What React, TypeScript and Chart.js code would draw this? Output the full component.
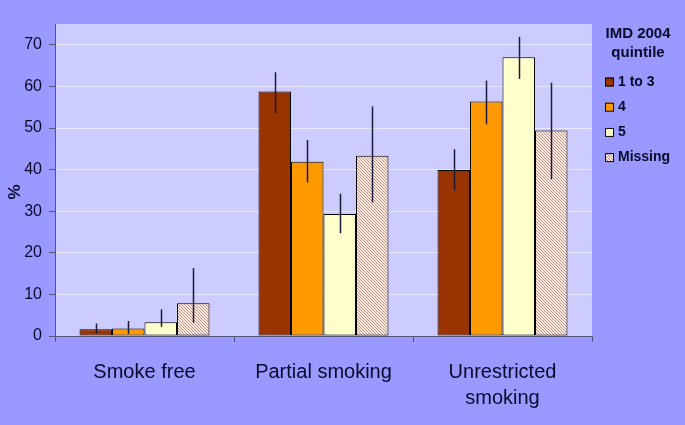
import React, { useEffect, useRef } from "react";
import { Chart, registerables } from "chart.js";

Chart.register(...registerables);

const categories: (string | string[])[] = ["Smoke free", "Partial smoking", ["Unrestricted", "smoking"]];
const seriesLabels = ["1 to 3", "4", "5", "Missing"];

const values13 = [1.6, 58.8, 39.9];
const low13 = [0.6, 53.6, 35.0];
const high13 = [3.0, 63.4, 44.9];

const values4 = [1.8, 41.9, 56.4];
const low4 = [0.5, 36.9, 50.9];
const high4 = [3.6, 47.1, 61.4];

const values5 = [3.3, 29.3, 67.0];
const low5 = [2.2, 24.7, 61.8];
const high5 = [6.4, 34.2, 71.9];

const valuesMissing = [7.9, 43.3, 49.4];
const lowMissing = [3.2, 32.1, 37.7];
const highMissing = [16.3, 55.2, 60.9];

const yMax = 75;
const yStep = 10;

const FONT = "Arial, 'Liberation Sans', sans-serif";
const TEXT = "#0a0a2a";

function makePattern(): CanvasPattern | string {
  const c = document.createElement("canvas");
  c.width = 3;
  c.height = 3;
  const g = c.getContext("2d");
  if (!g) return "#ecd0c8";
  g.fillStyle = "#fcece4";
  g.fillRect(0, 0, 3, 3);
  g.fillStyle = "#c4907e";
  for (let i = 0; i < 3; i++) g.fillRect(i, i, 1, 1);
  const p = g.createPattern(c, "repeat");
  return p || "#ecd0c8";
}

export default function App() {
  const ref = useRef<HTMLCanvasElement | null>(null);

  useEffect(() => {
    const canvas = ref.current;
    if (!canvas) return;
    const pattern = makePattern();
    const colors: (string | CanvasPattern)[] = ["#993300", "#ff9900", "#ffffcc", pattern];
    const lows = [low13, low4, low5, lowMissing];
    const highs = [high13, high4, high5, highMissing];

    const bgPlugin = {
      id: "bgPlugin",
      beforeDraw(chart: any) {
        const { ctx, chartArea } = chart;
        ctx.save();
        ctx.fillStyle = "#ccccff";
        ctx.fillRect(chartArea.left, chartArea.top, chartArea.right - chartArea.left, chartArea.bottom - chartArea.top);
        ctx.restore();
      },
    };

    const errPlugin = {
      id: "errPlugin",
      afterDatasetsDraw(chart: any) {
        const { ctx } = chart;
        const ys = chart.scales.y;
        ctx.save();
        ctx.strokeStyle = "#1a1a3a";
        ctx.lineWidth = 1.5;
        chart.data.datasets.forEach((_: any, i: number) => {
          const meta = chart.getDatasetMeta(i);
          meta.data.forEach((el: any, j: number) => {
            const x = Math.round(el.x) + 0.5;
            ctx.beginPath();
            ctx.moveTo(x, ys.getPixelForValue(highs[i][j]));
            ctx.lineTo(x, ys.getPixelForValue(lows[i][j]));
            ctx.stroke();
          });
        });
        ctx.restore();
      },
    };

    const legendPlugin = {
      id: "legendPlugin",
      afterDraw(chart: any) {
        const { ctx } = chart;
        ctx.save();
        ctx.fillStyle = TEXT;
        ctx.font = `bold 15px ${FONT}`;
        ctx.textAlign = "center";
        ctx.textBaseline = "middle";
        ctx.fillText("IMD 2004", 638, 34);
        ctx.fillText("quintile", 638, 53);
        ctx.font = `bold 14px ${FONT}`;
        ctx.textAlign = "left";
        chart.data.datasets.forEach((ds: any, i: number) => {
          const y = 82 + i * 25.2;
          ctx.fillStyle = ds.backgroundColor;
          ctx.fillRect(605, y - 4.5, 9, 9);
          ctx.strokeStyle = "#000";
          ctx.lineWidth = 1;
          ctx.strokeRect(605.5, y - 4, 8, 8);
          ctx.fillStyle = TEXT;
          ctx.fillText(ds.label, 618, y);
        });
        // y-axis title
        ctx.translate(15, 192);
        ctx.rotate(-Math.PI / 2);
        ctx.textAlign = "center";
        ctx.font = `bold 17px ${FONT}`;
        ctx.fillText("%", 0, 0);
        ctx.restore();
      },
    };

    const chart = new Chart(canvas, {
      type: "bar",
      data: {
        labels: categories,
        datasets: [
          { label: seriesLabels[0], data: values13 },
          { label: seriesLabels[1], data: values4 },
          { label: seriesLabels[2], data: values5 },
          { label: seriesLabels[3], data: valuesMissing },
        ].map((d, i) => ({
          ...d,
          backgroundColor: colors[i] as any,
          borderColor: "#000000",
          borderWidth: 1,
          borderSkipped: false as any,
          categoryPercentage: 0.726,
          barPercentage: 1.0,
        })),
      },
      options: {
        responsive: false,
        animation: false,
        devicePixelRatio: 1,
        layout: { padding: { top: 24, right: 93, left: 0, bottom: 0 } },
        plugins: {
          legend: { display: false },
          tooltip: { enabled: false },
        },
        scales: {
          x: {
            offset: true,
            afterFit(scale: any) {
              scale.height = 89;
            },
            grid: {
              offset: true,
              drawOnChartArea: false,
              drawTicks: true,
              tickLength: 6,
              tickColor: "#555577",
            },
            border: { color: "#555577", width: 1 },
            ticks: {
              color: TEXT,
              font: { family: FONT, size: 20, lineHeight: 1.3 },
              padding: 17,
              maxRotation: 0,
              autoSkip: false,
            },
          },
          y: {
            min: 0,
            max: yMax,
            afterFit(scale: any) {
              scale.width = 55;
            },
            grid: {
              color: "#e8e8ff",
              lineWidth: 1,
              tickLength: 6,
              tickColor: "#555577",
            },
            border: { color: "#555577", width: 1 },
            ticks: {
              stepSize: yStep,
              includeBounds: false,
              color: TEXT,
              font: { family: FONT, size: 16 },
              padding: 7,
            },
          },
        },
      },
      plugins: [bgPlugin, errPlugin, legendPlugin],
    });
    return () => chart.destroy();
  }, []);

  return (
    <div style={{ position: "fixed", left: 0, top: 0, width: 685, height: 425, background: "#9999ff" }}>
      <canvas ref={ref} width={685} height={425} style={{ display: "block", width: 685, height: 425 }} />
    </div>
  );
}
